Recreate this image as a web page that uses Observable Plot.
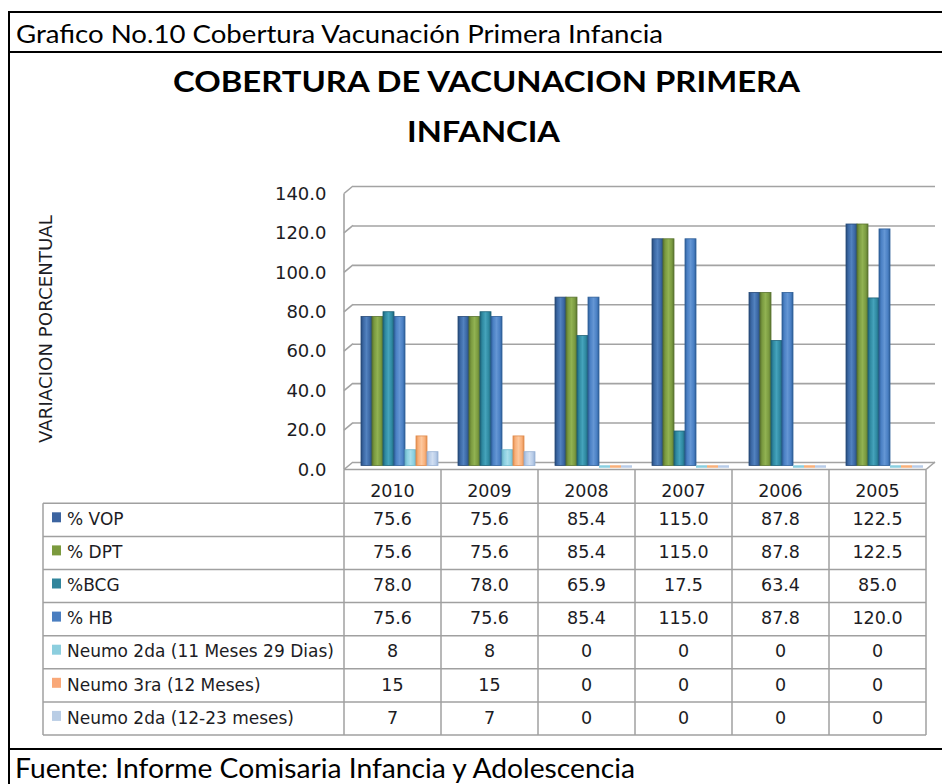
<!DOCTYPE html>
<html><head><meta charset="utf-8">
<script src="https://cdn.jsdelivr.net/npm/d3@7"></script>
<script src="https://cdn.jsdelivr.net/npm/@observablehq/plot@0.6"></script>
<style>
html,body{margin:0;padding:0;background:#fff;}
#root{position:relative;width:942px;height:784px;overflow:hidden;background:#fff;}
#root > svg{position:absolute;left:0;top:0;}
</style></head><body>
<div id="root"></div>
<script>
// ---- data ----
const years = ["2010", "2009", "2008", "2007", "2006", "2005"];
const series = ["% VOP", "% DPT", "%BCG", "% HB", "Neumo 2da (11 Meses 29 Dias)", "Neumo 3ra (12 Meses)", "Neumo 2da (12-23 meses)"];
const vop = [75.6, 75.6, 85.4, 115.0, 87.8, 122.5];
const dpt = [75.6, 75.6, 85.4, 115.0, 87.8, 122.5];
const bcg = [78.0, 78.0, 65.9, 17.5, 63.4, 85.0];
const hb = [75.6, 75.6, 85.4, 115.0, 87.8, 120.0];
const neumo2da = [8, 8, 0, 0, 0, 0];
const neumo3ra = [15, 15, 0, 0, 0, 0];
const neumo1223 = [7, 7, 0, 0, 0, 0];
const seriesValues = [vop, dpt, bcg, hb, neumo2da, neumo3ra, neumo1223];
const decimals = [1, 1, 1, 1, 0, 0, 0];
const yTicks = [0, 20, 40, 60, 80, 100, 120, 140];
const headerText = "Grafico No.10 Cobertura Vacunación Primera Infancia";
const titleLines = ["COBERTURA DE VACUNACION PRIMERA", "INFANCIA"];
const yTitle = "VARIACION PORCENTUAL";
const footerText = "Fuente: Informe Comisaria Infancia y Adolescencia";

// ---- styles ----
const palette = [
  {dark: "#274a78", base: "#3a67a3", light: "#5282bf", swatch: "#3c64a0"},
  {dark: "#5a7430", base: "#7a9a40", light: "#91b252", swatch: "#7b9a3e"},
  {dark: "#1e6277", base: "#2e88a0", light: "#45a3bb", swatch: "#31859c"},
  {dark: "#2f5f98", base: "#4a80c4", light: "#6496d4", swatch: "#4a7ec0"},
  {dark: "#6cb4c8", base: "#8acfe0", light: "#a8deeb", swatch: "#8ccede"},
  {dark: "#e08c4e", base: "#f9b07a", light: "#fcc89e", swatch: "#f9a878"},
  {dark: "#98b1d4", base: "#b8cce8", light: "#d0def1", swatch: "#b9cde5"}
];
const gridColor = "#a3a3a3";
const tableColor = "#a0a0a0";
const textColor = "#1c1c24";

const rows = series.flatMap((s, i) => years.map((yr, j) => ({series: s, idx: i, year: yr, value: seriesValues[i][j]})));

const root = d3.select("#root");

// gradient defs
const defsSvg = root.append("svg").attr("width", 0).attr("height", 0);
const defs = defsSvg.append("defs");
palette.forEach((p, i) => {
  const lg = defs.append("linearGradient").attr("id", "grad" + i)
    .attr("x1", 0).attr("x2", 1).attr("y1", 0).attr("y2", 0);
  [[0, p.dark], [0.2, p.base], [0.5, p.light], [0.8, p.base], [1, p.dark]]
    .forEach(([o, c]) => lg.append("stop").attr("offset", o).attr("stop-color", c));
});

// ---- chart ----
const chart = Plot.plot({
  width: 942,
  height: 784,
  marginLeft: 343,
  marginRight: 16,
  marginTop: 193.5,
  marginBottom: 314.5,
  style: {background: "transparent", fontFamily: "'DejaVu Sans', sans-serif", fontSize: "18px", color: textColor, overflow: "visible"},
  fx: {domain: years, padding: 0, axis: null, label: null},
  x: {domain: series, paddingInner: 0, paddingOuter: 0.75, align: 0.87, axis: null},
  y: {domain: [0, 140], ticks: yTicks, tickFormat: d => d.toFixed(1), tickSize: 0, tickPadding: 18, label: null},
  color: {type: "identity"},
  marks: [
    Plot.ruleY(yTicks, {dx: 9, dy: -7.5, stroke: gridColor, strokeWidth: 1.6}),
    Plot.barY(rows, {fx: "year", x: "series", y: "value", fill: d => `url(#grad${d.idx})`, stroke: d => palette[d.idx].dark, strokeWidth: 0.8, dy: -4}),
    Plot.tickY(rows.filter(d => d.value === 0), {fx: "year", x: "series", y: "value", stroke: d => palette[d.idx].base, strokeWidth: 2.5, dy: -3.5})
  ]
});
chart.style.position = "absolute";
chart.style.left = "0px";
chart.style.top = "0px";
root.node().appendChild(chart);

const fx = chart.scale("fx");
const y = chart.scale("y");
const bw = fx.bandwidth;
const colX = years.map(yr => fx.apply(yr));
const tableRight = colX[colX.length - 1] + bw;
const y0 = y.apply(0);
const yTop = y.apply(140);

// ---- overlay ----
const ov = root.append("svg").attr("width", 942).attr("height", 784);

// frame
const frame = ov.append("g").attr("stroke", "#000").attr("stroke-width", 2);
frame.append("line").attr("x1", 9).attr("x2", 942).attr("y1", 12).attr("y2", 12);
frame.append("line").attr("x1", 9).attr("x2", 9).attr("y1", 11).attr("y2", 784);
frame.append("line").attr("x1", 9).attr("x2", 942).attr("y1", 52).attr("y2", 52);
frame.append("line").attr("x1", 9).attr("x2", 942).attr("y1", 749).attr("y2", 749);

ov.append("text").attr("x", 16).attr("y", 43)
  .attr("font-family", "Lato, sans-serif").attr("font-size", 25)
  .attr("textLength", 647).attr("lengthAdjust", "spacingAndGlyphs")
  .attr("fill", "#000").text(headerText);

ov.append("text").attr("x", 486.5).attr("y", 92).attr("text-anchor", "middle")
  .attr("font-family", "Lato, sans-serif").attr("font-size", 29).attr("font-weight", "bold")
  .attr("textLength", 627).attr("lengthAdjust", "spacingAndGlyphs")
  .attr("fill", "#000").text(titleLines[0]);
ov.append("text").attr("x", 483.5).attr("y", 142).attr("text-anchor", "middle")
  .attr("font-family", "Lato, sans-serif").attr("font-size", 29).attr("font-weight", "bold")
  .attr("textLength", 153).attr("lengthAdjust", "spacingAndGlyphs")
  .attr("fill", "#000").text(titleLines[1]);

ov.append("text").attr("transform", "translate(52,329) rotate(-90)").attr("text-anchor", "middle")
  .attr("font-family", "'DejaVu Sans', sans-serif").attr("font-size", 17)
  .attr("textLength", 228).attr("lengthAdjust", "spacingAndGlyphs")
  .attr("fill", textColor).text(yTitle);

// 3D walls
const wall = ov.append("g").attr("stroke", gridColor).attr("stroke-width", 1.6).attr("fill", "none");
wall.append("line").attr("x1", colX[0]).attr("x2", colX[0]).attr("y1", yTop).attr("y2", y0);
yTicks.forEach(v => {
  wall.append("line").attr("x1", colX[0]).attr("y1", y.apply(v)).attr("x2", colX[0] + 9).attr("y2", y.apply(v) - 7.5);
});
wall.append("line").attr("x1", tableRight).attr("y1", y0).attr("x2", tableRight + 9).attr("y2", y0 - 7.5);

// table
const tTop = 503.3, tBottom = 735, legendLeft = 43;
const rowH = (tBottom - tTop) / series.length;
const tg = ov.append("g").attr("stroke", tableColor).attr("stroke-width", 1.5);
tg.append("line").attr("x1", colX[0]).attr("x2", tableRight).attr("y1", y0).attr("y2", y0);
colX.concat([tableRight]).forEach(x => tg.append("line").attr("x1", x).attr("x2", x).attr("y1", y0).attr("y2", tBottom));
tg.append("line").attr("x1", legendLeft).attr("x2", legendLeft).attr("y1", tTop).attr("y2", tBottom);
for (let i = 0; i <= series.length; i++) {
  const yy = tTop + i * rowH;
  tg.append("line").attr("x1", legendLeft).attr("x2", tableRight).attr("y1", yy).attr("y2", yy);
}
const txt = ov.append("g").attr("font-family", "'DejaVu Sans', sans-serif").attr("fill", textColor);
years.forEach((yr, j) => {
  txt.append("text").attr("x", colX[j] + bw / 2).attr("y", y0 + 27.5).attr("text-anchor", "middle")
    .attr("font-size", 17.5).text(yr);
});
series.forEach((s, i) => {
  const top = tTop + i * rowH;
  ov.append("rect").attr("x", 52).attr("y", top + 9).attr("width", 9).attr("height", 10).attr("fill", palette[i].swatch);
  txt.append("text").attr("x", 67).attr("y", top + 21.7).attr("font-size", 17).text(s);
  years.forEach((yr, j) => {
    txt.append("text").attr("x", colX[j] + bw / 2).attr("y", top + 21.7).attr("text-anchor", "middle")
      .attr("font-size", 17.5).text(seriesValues[i][j].toFixed(decimals[i]));
  });
});

ov.append("text").attr("x", 15).attr("y", 778)
  .attr("font-family", "Lato, sans-serif").attr("font-size", 26)
  .attr("textLength", 620).attr("lengthAdjust", "spacingAndGlyphs")
  .attr("fill", "#000").text(footerText);
</script>
</body></html>
